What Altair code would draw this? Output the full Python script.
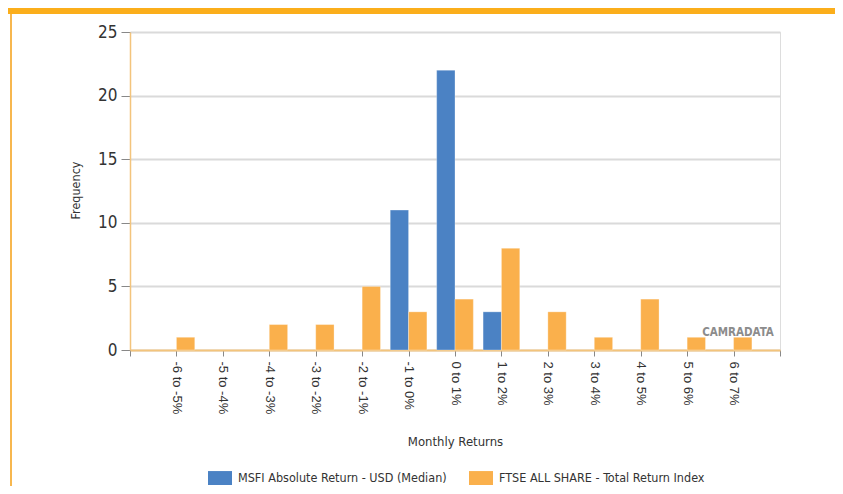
import json
import altair as alt
import pandas as pd

# ---- data ----
categories = ["-6 to -5%", "-5 to -4%", "-4 to -3%", "-3 to -2%", "-2 to -1%",
              "-1 to 0%", "0 to 1%", "1 to 2%", "2 to 3%", "3 to 4%",
              "4 to 5%", "5 to 6%", "6 to 7%"]
msfi = [0, 0, 0, 0, 0, 11, 22, 3, 0, 0, 0, 0, 0]
ftse = [1, 0, 2, 2, 5, 3, 4, 8, 3, 1, 4, 1, 1]
series_names = ["MSFI Absolute Return - USD (Median)",
                "FTSE ALL SHARE - Total Return Index"]
series_colors = ["#4B82C4", "#FAB04C"]
y_ticks = [0, 5, 10, 15, 20, 25]

rows = []
for i, cat in enumerate(categories):
    rows.append({"category": cat, "pos": i + 1, "series": series_names[0],
                 "side": -1, "value": msfi[i]})
    rows.append({"category": cat, "pos": i + 1, "series": series_names[1],
                 "side": 1, "value": ftse[i]})
df = pd.DataFrame(rows)

tick_labels = [""] + categories + [""]
label_expr = json.dumps(tick_labels) + "[datum.value]"
x_vals = list(range(len(tick_labels)))

NARROW = "DejaVu Sans Condensed, Liberation Sans Narrow, sans-serif"
ORANGE_LINE = "#F3C47C"

x_scale = alt.Scale(domain=[0, len(tick_labels) - 1], nice=False, zero=False)

bars = alt.Chart(df).transform_filter("datum.value > 0").transform_calculate(
    x0="datum.side < 0 ? datum.pos - 0.395 : datum.pos",
    x1="datum.side < 0 ? datum.pos : datum.pos + 0.395",
).mark_bar(stroke="white", strokeWidth=0.6, strokeOpacity=0.5).encode(
    x=alt.X("x0:Q", scale=x_scale,
            axis=alt.Axis(values=x_vals, labelExpr=label_expr, grid=False,
                          title="Monthly Returns", labelAngle=90,
                          labelAlign="left", labelBaseline="middle",
                          labelPadding=5, labelFontSize=13,
                          labelFont="Liberation Sans, Arial, sans-serif",
                          labelColor="#333333", tickSize=6, tickColor="#888888",
                          tickWidth=1, domainColor=ORANGE_LINE, domainWidth=2,
                          titleFont=NARROW, titleFontSize=13,
                          titleFontWeight="normal", titleColor="#333333",
                          titleX=325, titleY=91, titleAlign="center",
                          titleBaseline="middle", labelOverlap=False)),
    x2="x1:Q",
    y=alt.Y("value:Q", scale=alt.Scale(domain=[0, 25], nice=False),
            axis=alt.Axis(values=y_ticks, title="Frequency", grid=True,
                          gridColor="#DADADA", gridWidth=2,
                          tickSize=9, tickColor="#888888", tickWidth=1,
                          labelFont=NARROW, labelFontSize=17,
                          labelColor="#333333", labelPadding=4,
                          domainColor=ORANGE_LINE, domainWidth=1.5,
                          titleFont=NARROW, titleFontSize=12.5,
                          titleFontWeight="normal", titleColor="#333333",
                          titleAngle=-90, titleX=-55, titleY=158,
                          titleAlign="center", titleBaseline="middle")),
    y2=alt.datum(0),
    color=alt.Color("series:N",
                    scale=alt.Scale(domain=series_names, range=series_colors),
                    legend=alt.Legend(title=None, orient="none",
                                      direction="horizontal",
                                      legendX=78, legendY=434,
                                      symbolType="M-1,-0.58H1V0.58H-1Z",
                                      symbolSize=576, symbolStrokeWidth=0,
                                      labelFont=NARROW, labelFontSize=12.5,
                                      labelColor="#333333", labelOffset=6,
                                      labelLimit=400, columnPadding=22,
                                      padding=0)),
)

frame_data = alt.Data(values=[{}])
top_band = alt.Chart(frame_data).mark_rect(color="#FBAE1B").encode(
    x=alt.value(-122), x2=alt.value(705), y=alt.value(-24), y2=alt.value(-18)
)
left_line = alt.Chart(frame_data).mark_rule(color="#F7B74F", strokeWidth=2).encode(
    x=alt.value(-119), y=alt.value(-18), y2=alt.value(460)
)
watermark = alt.Chart(frame_data).mark_text(
    text="CAMRADATA", font=NARROW, fontSize=11.5, fontWeight="bold",
    color="#8C8C8C", align="center", baseline="middle"
).encode(x=alt.value(608), y=alt.value(301))

chart = alt.layer(top_band, left_line, bars, watermark).properties(
    width=650, height=318,
    padding={"left": 122, "top": 24, "right": 55, "bottom": 136},
    autosize=alt.AutoSizeParams(type="none"),
).configure_view(stroke=None).configure(background="white")

chart.save("out.html", embed_options={"renderer": "svg", "actions": False})
